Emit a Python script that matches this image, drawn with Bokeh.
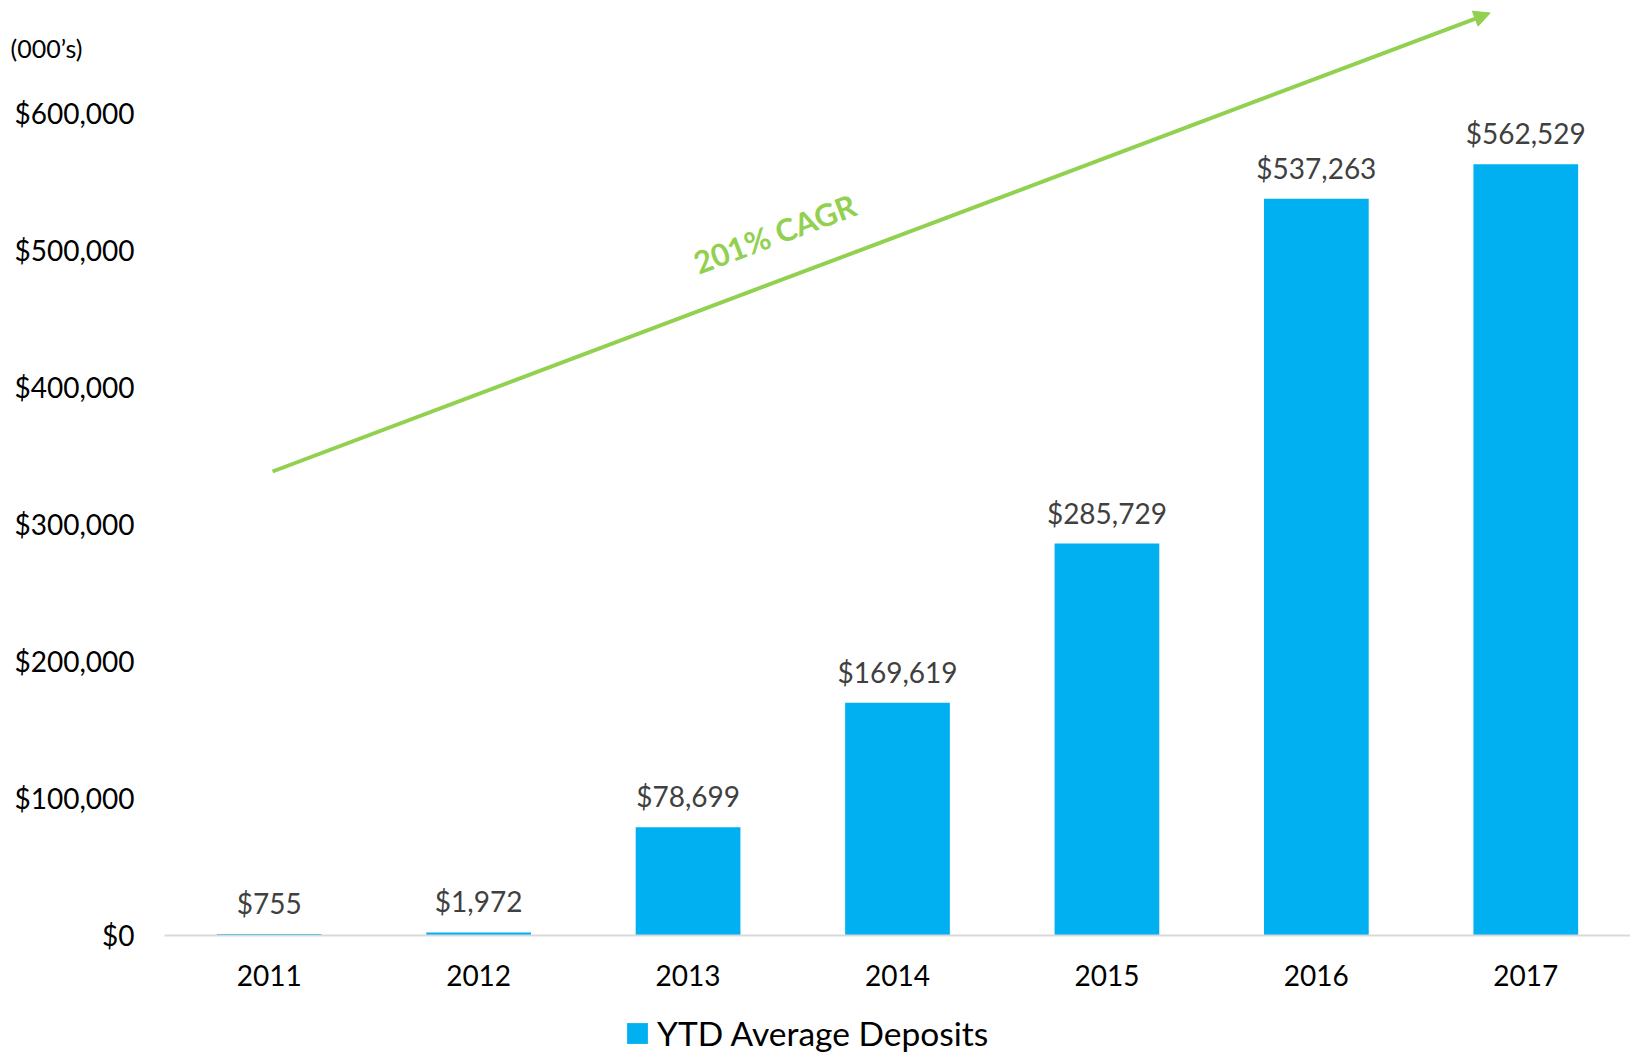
from bokeh.plotting import figure
from bokeh.models import (ColumnDataSource, Range1d, FixedTicker, LabelSet,
                          Label, Arrow, NormalHead, Legend, LegendItem)
from bokeh.core.properties import value
from bokeh.embed import file_html
from bokeh.resources import INLINE

# ---- data ----
years = ["2011", "2012", "2013", "2014", "2015", "2016", "2017"]
deposits = [755, 1972, 78699, 169619, 285729, 537263, 562529]
value_labels = ["$755", "$1,972", "$78,699", "$169,619", "$285,729", "$537,263", "$562,529"]
y_ticks = [0, 100000, 200000, 300000, 400000, 500000, 600000]
y_tick_labels = ["$0", "$100,000", "$200,000", "$300,000", "$400,000", "$500,000", "$600,000"]
series_name = "YTD Average Deposits"
unit_note = "(000\u2019s)"
cagr_label = "201% CAGR"

# annotation placement (data coordinates)
arrow_start = (0.016, 338270)
arrow_end = (5.83, 672800)
cagr_pos = (2.413, 511900)
note_pos = (-1.235, 647000)

FONT = "Lato"
BLUE = "#00b0f0"
GREEN = "#92d050"

positions = list(range(len(years)))
source = ColumnDataSource(data=dict(x=positions, deposits=deposits, labels=value_labels))

p = figure(x_range=Range1d(-1.283, 6.5), y_range=Range1d(-87850, 681940),
           width=1630, height=1055, output_backend="svg", toolbar_location=None,
           min_border_left=0, min_border_right=0, min_border_top=0, min_border_bottom=0)
p.outline_line_color = None
p.xgrid.grid_line_color = None
p.ygrid.grid_line_color = None
p.background_fill_color = "white"
p.border_fill_color = "white"

bars = p.vbar(x="x", top="deposits", width=0.5, source=source,
              fill_color=BLUE, line_color=None)

# y axis
yax = p.yaxis[0]
yax.fixed_location = -0.5
yax.ticker = FixedTicker(ticks=y_ticks)
yax.major_label_overrides = {t: l for t, l in zip(y_ticks, y_tick_labels)}
yax.axis_line_color = None
yax.major_tick_line_color = None
yax.minor_tick_line_color = None
yax.major_tick_in = 0
yax.major_tick_out = 0
yax.major_label_standoff = 30
yax.major_label_text_font = FONT
yax.major_label_text_font_size = "28px"
yax.major_label_text_color = "#000000"

# x axis
xax = p.xaxis[0]
xax.fixed_location = 0
xax.bounds = (-0.5, 6.5)
xax.ticker = FixedTicker(ticks=positions)
xax.major_label_overrides = {i: y for i, y in zip(positions, years)}
xax.axis_line_color = "#d9d9d9"
xax.axis_line_width = 2
xax.major_tick_line_color = None
xax.minor_tick_line_color = None
xax.major_tick_in = 0
xax.major_tick_out = 0
xax.major_label_standoff = 30
xax.major_label_text_font = FONT
xax.major_label_text_font_size = "28px"
xax.major_label_text_color = "#000000"

# value labels
labels = LabelSet(x="x", y="deposits", text="labels", source=source,
                  y_offset=14, text_align="center", text_baseline="bottom",
                  text_font=value(FONT), text_font_size="28px", text_color="#404040")
p.add_layout(labels)

# CAGR arrow
arrow = Arrow(end=NormalHead(size=16, fill_color=GREEN, line_color=GREEN),
              x_start=arrow_start[0], y_start=arrow_start[1],
              x_end=arrow_end[0], y_end=arrow_end[1],
              line_color=GREEN, line_width=4)
p.add_layout(arrow)

cagr = Label(x=cagr_pos[0], y=cagr_pos[1], text=cagr_label, angle=20.6, angle_units="deg",
             text_align="center", text_baseline="middle", text_font=FONT,
             text_font_style="bold", text_font_size="31px", text_color=GREEN)
p.add_layout(cagr)

note = Label(x=note_pos[0], y=note_pos[1], text=unit_note, text_align="left",
             text_baseline="middle", text_font=FONT, text_font_size="25px", text_color="#000000")
p.add_layout(note)

legend = Legend(items=[LegendItem(label=series_name, renderers=[bars])],
                location=(624, 2), orientation="horizontal",
                glyph_width=26, glyph_height=26, label_standoff=7, label_height=26,
                label_text_font=FONT, label_text_font_size="33.5px", label_text_color="#000000",
                padding=0, margin=0, border_line_color=None, background_fill_alpha=0)
p.add_layout(legend, "center")

open("out.html", "w").write(file_html(p, INLINE))
